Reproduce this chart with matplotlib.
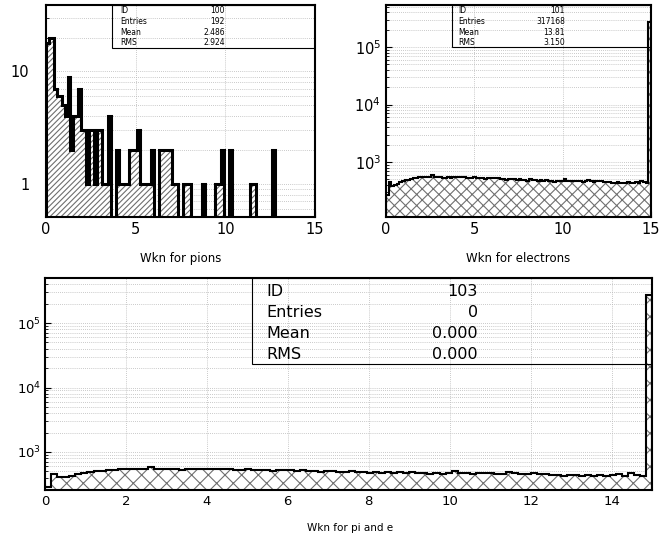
import numpy as np
import matplotlib.pyplot as plt
from matplotlib.patches import Rectangle
from matplotlib.ticker import LogLocator, NullFormatter, FixedLocator, FixedFormatter, MultipleLocator

plt.rcParams['font.family'] = ['DejaVu Sans']
plt.rcParams['hatch.linewidth'] = 0.8

# 100 bins between 0 and 15
edges = np.linspace(0, 15, 101)

pion_counts = [
    18, 20, 20, 7, 6, 6, 5, 4, 9, 2,
    4, 4, 7, 3, 3, 1, 3, 3, 1, 3,
    3, 1, 1, 4, 0, 0, 2, 1, 1, 1,
    1, 2, 2, 2, 3, 1, 1, 1, 1, 2,
    0, 0, 2, 2, 2, 2, 2, 1, 1, 0,
    0, 1, 1, 1, 0, 0, 0, 0, 1, 0,
    0, 0, 0, 1, 1, 2, 0, 0, 2, 0,
    0, 0, 0, 0, 0, 0, 1, 1, 0, 0,
    0, 0, 0, 0, 2, 0, 0, 0, 0, 0,
    0, 0, 0, 0, 0, 0, 0, 0, 0, 0,
]

electron_counts = [
    270, 440, 385, 400, 415, 455, 470, 480, 490, 500,
    515, 530, 545, 540, 550, 545, 540, 585, 545, 550,
    540, 535, 530, 540, 535, 545, 550, 545, 540, 550,
    535, 530, 525, 540, 520, 515, 525, 510, 520, 530,
    525, 515, 520, 510, 505, 480, 500, 510, 495, 490,
    500, 480, 490, 475, 495, 480, 485, 470, 490, 475,
    490, 470, 465, 455, 470, 460, 475, 500, 465, 470,
    460, 475, 470, 465, 455, 460, 480, 470, 455, 460,
    475, 460, 455, 440, 445, 430, 435, 440, 430, 435,
    430, 440, 425, 435, 450, 430, 470, 440, 430, 268000,
]

# pi and e together
combined_counts = np.array(electron_counts) + np.array(pion_counts)

pion_stats = [("ID", "100"), ("Entries", "192"), ("Mean", "2.486"), ("RMS", "2.924")]
electron_stats = [("ID", "101"), ("Entries", "317168"), ("Mean", "13.81"), ("RMS", "3.150")]
combined_stats = [("ID", "103"), ("Entries", "0"), ("Mean", "0.000"), ("RMS", "0.000")]

GRID = dict(color='#b8b8b8', linestyle=(0, (1, 1.5)), linewidth=0.6)


def draw_hist(ax, counts, hatch, hatch_color, lw, floor):
    counts = np.asarray(counts, dtype=float)
    ax.stairs(counts, edges, baseline=floor, fill=True, facecolor='white',
              edgecolor=hatch_color, hatch=hatch, linewidth=0, zorder=2)
    ax.stairs(np.where(counts > 0, counts, floor), edges, baseline=floor,
              color='black', linewidth=lw, zorder=3)


def stats_box(ax, rows, box_x, box_y, x_name, x_val, row_y, size):
    ax.add_patch(Rectangle((box_x, box_y), 1 - box_x, 1 - box_y, transform=ax.transAxes,
                           fill=False, edgecolor='black', linewidth=0.8, zorder=4))
    for (name, val), y in zip(rows, row_y):
        ax.text(x_name, y, name, transform=ax.transAxes, fontsize=size,
                ha='left', va='center', zorder=5)
        ax.text(x_val, y, val, transform=ax.transAxes, fontsize=size,
                ha='right', va='center', zorder=5)


def style_axes(ax, ylim, xmajor, tick_size):
    ax.set_yscale('log', nonpositive='clip')
    ax.set_xlim(0, 15)
    ax.set_ylim(*ylim)
    ax.xaxis.set_major_locator(MultipleLocator(xmajor))
    ax.yaxis.set_minor_locator(LogLocator(base=10, subs=np.arange(2, 10), numticks=20))
    ax.yaxis.set_minor_formatter(NullFormatter())
    ax.grid(True, which='major', axis='x', **GRID)
    ax.grid(True, which='both', axis='y', **GRID)
    ax.set_axisbelow(True)
    ax.tick_params(which='both', direction='in', labelsize=tick_size)
    ax.tick_params(which='major', length=4)
    ax.tick_params(which='minor', length=2)
    for s in ax.spines.values():
        s.set_linewidth(1.5)


fig = plt.figure(figsize=(6.61, 5.40), dpi=100)

# pions
ax1 = fig.add_axes([46 / 661, 1 - 217 / 540, 269 / 661, 212 / 540])
draw_hist(ax1, pion_counts, '//////', '#6e6e6e', 2.2, 0.01)
style_axes(ax1, (0.507, 39), 5, 10.5)
ax1.yaxis.set_major_locator(FixedLocator([1, 10]))
ax1.yaxis.set_major_formatter(FixedFormatter(['1', '10']))
ax1.tick_params(axis='y', which='major', pad=12)
stats_box(ax1, pion_stats, 0.244, 0.795, 0.275, 0.665,
          [0.973, 0.921, 0.869, 0.821], 5.5)
fig.text(181 / 661, 1 - 258 / 540, 'Wkn for pions', ha='center', va='center', fontsize=8.5)

# electrons
ax2 = fig.add_axes([386 / 661, 1 - 217 / 540, 265 / 661, 212 / 540])
draw_hist(ax2, electron_counts, 'xxx', '#707070', 1.5, 1.0)
style_axes(ax2, (110, 5.4e5), 5, 10.5)
stats_box(ax2, electron_stats, 0.248, 0.8, 0.273, 0.675,
          [0.973, 0.921, 0.869, 0.821], 5.5)
fig.text(518 / 661, 1 - 258 / 540, 'Wkn for electrons', ha='center', va='center', fontsize=8.5)

# pi and e
ax3 = fig.add_axes([45 / 661, 1 - 490 / 540, 607 / 661, 212 / 540])
draw_hist(ax3, combined_counts, 'xx', '#707070', 1.5, 1.0)
style_axes(ax3, (257, 5.0e5), 2, 9.5)
ax3.tick_params(axis='y', which='major', pad=3)
stats_box(ax3, combined_stats, 0.341, 0.594, 0.365, 0.713,
          [0.937, 0.836, 0.74, 0.64], 11.5)
fig.text(350 / 661, 1 - 528 / 540, 'Wkn for pi and e', ha='center', va='center', fontsize=7.5)

fig.savefig('out.png', dpi=100)
